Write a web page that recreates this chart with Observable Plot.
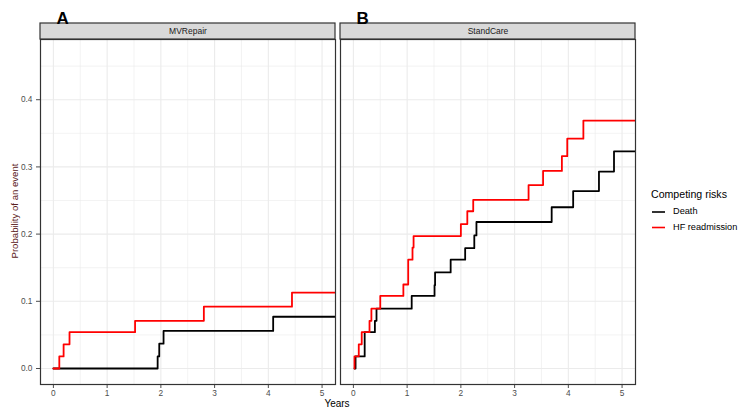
<!DOCTYPE html>
<html>
<head>
<meta charset="utf-8">
<script src="https://cdn.jsdelivr.net/npm/d3@7"></script>
<script src="https://cdn.jsdelivr.net/npm/@observablehq/plot@0.6"></script>
<style>
  html, body { margin: 0; padding: 0; background: #fff; }
  #wrap { position: relative; width: 747px; height: 415px; font-family: "Liberation Sans", Arial, sans-serif; }
  #wrap > svg { position: absolute; left: 0; top: 0; }
  .ov { position: absolute; white-space: nowrap; line-height: 1; }
</style>
</head>
<body>
<div id="wrap"></div>
<script>
// ---- data ----
const panels = ["MVRepair", "StandCare"];
const panelTags = ["A", "B"];
const risks = ["Death", "HF readmission"];
const riskColors = ["black", "red"];

const mvDeathT = [0, 1.94, 1.97, 2.05, 4.09, 5.3];
const mvDeathP = [0, 0.018, 0.037, 0.056, 0.077, 0.077];
const mvHFT = [0, 0.11, 0.19, 0.30, 1.52, 2.80, 4.44, 5.3];
const mvHFP = [0, 0.018, 0.036, 0.054, 0.071, 0.092, 0.113, 0.113];

const scDeathT = [0.02, 0.04, 0.21, 0.40, 0.43, 1.085, 1.51, 1.52, 1.81, 2.08, 2.25, 2.29, 3.69, 4.09, 4.57, 4.85, 5.3];
const scDeathP = [0, 0.018, 0.054, 0.071, 0.089, 0.108, 0.124, 0.143, 0.162, 0.179, 0.198, 0.218, 0.240, 0.264, 0.293, 0.323, 0.323];
const scHFT = [0.02, 0.02, 0.10, 0.155, 0.30, 0.335, 0.50, 0.93, 1.02, 1.10, 1.12, 2.0, 2.12, 2.23, 3.26, 3.53, 3.88, 3.98, 4.28, 5.3];
const scHFP = [0, 0.018, 0.036, 0.054, 0.071, 0.089, 0.108, 0.125, 0.162, 0.180, 0.197, 0.215, 0.234, 0.251, 0.273, 0.294, 0.316, 0.342, 0.369, 0.369];

const xTicks = [0, 1, 2, 3, 4, 5];
const xMinor = [0.5, 1.5, 2.5, 3.5, 4.5];
const yTicks = [0, 0.1, 0.2, 0.3, 0.4];
const yMinor = [0.05, 0.15, 0.25, 0.35, 0.45];

// ---- build table ----
function rows(panel, risk, T, P) { return T.map((t, i) => ({panel, risk, t, p: P[i]})); }
const curves = [
  ...rows("MVRepair", "Death", mvDeathT, mvDeathP),
  ...rows("MVRepair", "HF readmission", mvHFT, mvHFP),
  ...rows("StandCare", "Death", scDeathT, scDeathP),
  ...rows("StandCare", "HF readmission", scHFT, scHFP)
];

const xDomain = [-0.24, 5.25];
const yDomain = [-0.0238, 0.4896];
const frameH = 345;
const stripTop = yDomain[1] + (yDomain[1] - yDomain[0]) * 16 / frameH;
const tags = panels.map((p, i) => ({panel: p, tag: panelTags[i]}));

const chart = Plot.plot({
  width: 747,
  height: 415,
  marginLeft: 40,
  marginRight: 112,
  marginTop: 39,
  marginBottom: 31,
  style: {fontFamily: '"Liberation Sans", Arial, sans-serif', fontSize: "8.3px", color: "#4d4d4d", background: "white"},
  fx: {domain: panels, axis: null, paddingInner: 0.017, paddingOuter: 0},
  x: {domain: xDomain, ticks: xTicks, tickSize: 4, tickPadding: 2, label: null, tickFormat: d3.format("d")},
  y: {domain: yDomain, ticks: yTicks, tickSize: 4, tickPadding: 4, label: null, tickFormat: d3.format(".1f")},
  color: {domain: risks, range: riskColors},
  marks: [
    Plot.ruleX(xMinor, {stroke: "#ebebeb", strokeWidth: 0.6}),
    Plot.ruleY(yMinor, {stroke: "#ebebeb", strokeWidth: 0.6}),
    Plot.ruleX(xTicks, {stroke: "#ebebeb", strokeWidth: 1.1}),
    Plot.ruleY(yTicks, {stroke: "#ebebeb", strokeWidth: 1.1}),
    Plot.line(curves, {fx: "panel", x: "t", y: "p", z: "risk", stroke: "risk", curve: "step-after", strokeWidth: 1.8, clip: true}),
    Plot.frame({stroke: "#333", strokeWidth: 1.2}),
    Plot.rect(panels, {fx: d => d, x1: xDomain[0], x2: xDomain[1], y1: yDomain[1], y2: stripTop, fill: "#d9d9d9", stroke: "#333", strokeWidth: 1.2}),
    Plot.text(panels, {fx: d => d, text: d => d, frameAnchor: "top", lineAnchor: "middle", dy: -8, fontSize: 8.5, fill: "#1a1a1a"}),
    Plot.text(tags, {fx: "panel", text: "tag", frameAnchor: "top-left", textAnchor: "start", lineAnchor: "bottom", dx: 16, dy: -16, fontSize: 17, fontWeight: "bold", fill: "black"})
  ]
});

const wrap = document.getElementById("wrap");
wrap.appendChild(chart);

// axis titles
const yl = document.createElement("div");
yl.className = "ov";
yl.textContent = "Probability of an event";
yl.style.cssText += "font-size:9.6px;color:#5a2020;left:15px;top:211px;transform:translate(-50%,-50%) rotate(-90deg);";
wrap.appendChild(yl);

const xl = document.createElement("div");
xl.className = "ov";
xl.textContent = "Years";
xl.style.cssText += "font-size:10px;color:#000;left:337px;top:404px;transform:translate(-50%,-50%);";
wrap.appendChild(xl);

// legend
const lt = document.createElement("div");
lt.className = "ov";
lt.textContent = "Competing risks";
lt.style.cssText += "font-size:10.6px;color:#000;left:651px;top:189px;";
wrap.appendChild(lt);

const NS = "http://www.w3.org/2000/svg";
const lsvg = document.createElementNS(NS, "svg");
lsvg.setAttribute("width", "20");
lsvg.setAttribute("height", "40");
lsvg.style.cssText = "position:absolute;left:648px;top:200px;";
wrap.appendChild(lsvg);
risks.forEach((r, i) => {
  const y = 212 + i * 15.5;
  const ln = document.createElementNS(NS, "line");
  ln.setAttribute("x1", 4); ln.setAttribute("x2", 17);
  ln.setAttribute("y1", y - 200); ln.setAttribute("y2", y - 200);
  ln.setAttribute("stroke", riskColors[i]);
  ln.setAttribute("stroke-width", 1.6);
  lsvg.appendChild(ln);
  const tx = document.createElement("div");
  tx.className = "ov";
  tx.textContent = r;
  tx.style.cssText += `font-size:9.2px;color:#000;left:673px;top:${y}px;transform:translateY(-50%);`;
  wrap.appendChild(tx);
});
</script>
</body>
</html>
